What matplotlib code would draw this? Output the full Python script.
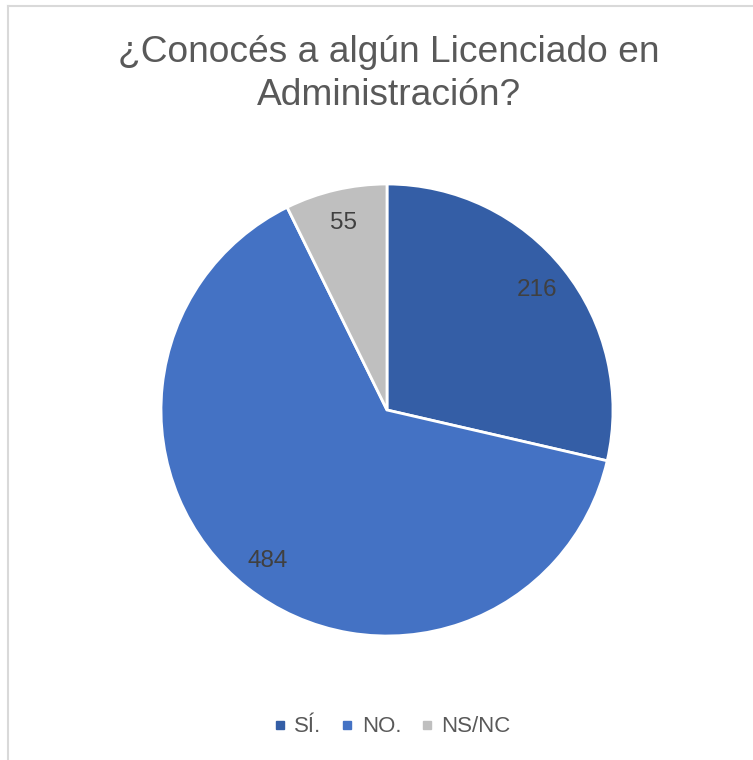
import matplotlib.pyplot as plt
from matplotlib.lines import Line2D

categories = ["SÍ.", "NO.", "NS/NC"]
values = [216, 484, 55]
colors = ["#345EA6", "#4472C4", "#BFBFBF"]

plt.rcParams["font.family"] = ["Liberation Sans", "DejaVu Sans"]

W, H = 753, 760
fig = plt.figure(figsize=(W / 100, H / 100), dpi=100)

# light frame (top and left edges visible in the reference)
fig.add_artist(Line2D([8 / W, 8 / W], [0, 1 - 6 / H], color="#D9D9D9", lw=1.5))
fig.add_artist(Line2D([8 / W, 1], [1 - 6 / H, 1 - 6 / H], color="#D9D9D9", lw=1.5))

fig.text(389 / W, 1 - 74 / H, "¿Conocés a algún Licenciado en\nAdministración?",
         ha="center", va="center", fontsize=26.7, color="#595959", linespacing=1.28)

# pie centre (387, 410), radius 226 px
r = 226
ax = fig.add_axes([(387 - r) / W, 1 - (410 + r) / H, 2 * r / W, 2 * r / H])
wedges, texts, autotexts = ax.pie(
    values,
    colors=colors,
    startangle=90,
    counterclock=False,
    autopct=lambda p: f"{round(p * sum(values) / 100):d}",
    pctdistance=0.85,
    wedgeprops=dict(edgecolor="white", linewidth=2),
    radius=1,
)
for t in autotexts:
    t.set_fontsize(17.5)
    t.set_color("#404040")
ax.set_xlim(-1, 1)
ax.set_ylim(-1, 1)
ax.set_aspect("equal")

handles = [Line2D([], [], marker="s", linestyle="none", markersize=5.5,
                  markerfacecolor=c, markeredgecolor=c) for c in colors]
fig.legend(handles, categories, loc="center", bbox_to_anchor=(393 / W, 1 - 727 / H),
           ncol=3, frameon=False, fontsize=16, labelcolor="#595959",
           handlelength=0.4, handletextpad=0.45, columnspacing=0.95)

fig.savefig("out.png", dpi=100)
